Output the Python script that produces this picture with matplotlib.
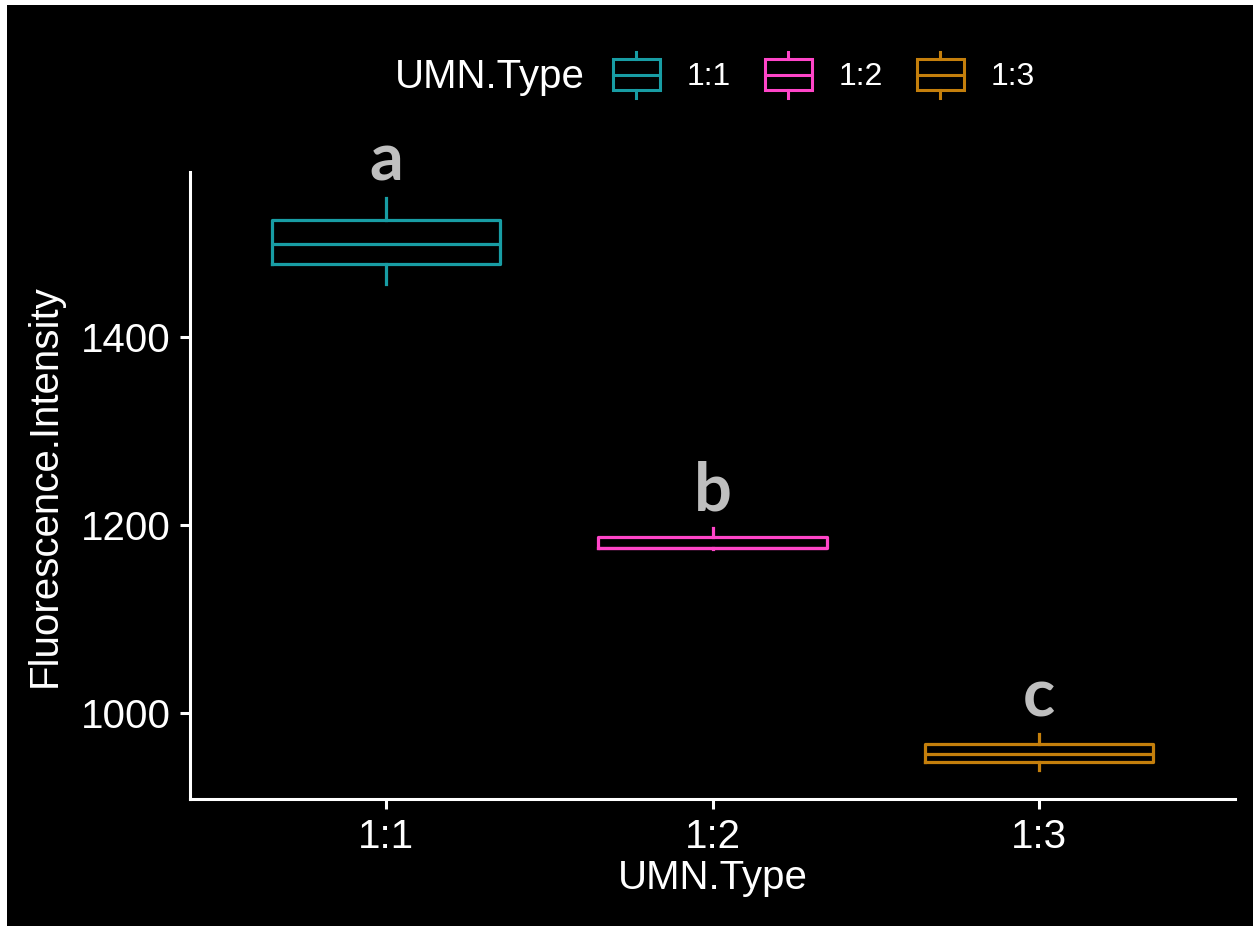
import matplotlib
matplotlib.use("Agg")
import matplotlib.pyplot as plt
from matplotlib.patches import Rectangle, Patch
from matplotlib.lines import Line2D
from matplotlib.legend_handler import HandlerBase

# box statistics
groups = ["1:1", "1:2", "1:3"]
whis_low = [1456, 1174, 939]
q1 = [1478, 1175, 948]
median = [1499, 1176, 956]
q3 = [1524, 1187, 967]
whis_high = [1548, 1197, 978]
letters = ["a", "b", "c"]
colors = ["#189DA4", "#FF45C8", "#C47F0C"]

plt.rcParams["font.family"] = ["Liberation Sans", "DejaVu Sans"]

fig = plt.figure(figsize=(12.53, 9.26), dpi=100, facecolor="white")
# black background with the thin white strip on top / left
fig.patches.append(Rectangle((7 / 1253, 0), 1, 1 - 5 / 926, transform=fig.transFigure,
                             facecolor="black", edgecolor="none", zorder=-10))

ax = fig.add_axes([190 / 1253, 1 - 799 / 926, (1235 - 190) / 1253, (799 - 172) / 926])
ax.set_facecolor("black")

stats = []
for i in range(len(groups)):
    stats.append(dict(med=median[i], q1=q1[i], q3=q3[i], whislo=whis_low[i],
                      whishi=whis_high[i], fliers=[], label=groups[i]))

bp = ax.bxp(stats, positions=[1, 2, 3], widths=0.7, showfliers=False, showcaps=False)
for i, c in enumerate(colors):
    bp["boxes"][i].set(color=c, linewidth=2.3)
    bp["medians"][i].set(color=c, linewidth=2.3)
    bp["whiskers"][2 * i].set(color=c, linewidth=2.3)
    bp["whiskers"][2 * i + 1].set(color=c, linewidth=2.3)

# significance letters
for i, lt in enumerate(letters):
    ax.text(i + 1, whis_high[i] + 18, lt, ha="center", va="baseline", color="#BFBFBF",
            fontsize=48, fontweight="bold", family=["Lato", "DejaVu Sans"])

ax.set_xlim(0.4, 3.6)
ax.set_ylim(908.5, 1575.5)
ax.set_xticks([1, 2, 3])
ax.set_xticklabels(groups)
ax.set_yticks([1000, 1200, 1400])

for s in ["top", "right"]:
    ax.spines[s].set_visible(False)
for s in ["left", "bottom"]:
    ax.spines[s].set_color("white")
    ax.spines[s].set_linewidth(2.2)
ax.tick_params(colors="white", labelsize=29, width=2.2, length=7, pad=7)

ax.set_xlabel("UMN.Type", color="white", fontsize=29, labelpad=2)
ax.set_ylabel("Fluorescence.Intensity", color="white", fontsize=29, labelpad=12)


class BoxHandler(HandlerBase):
    def create_artists(self, legend, orig_handle, xdescent, ydescent, width, height,
                       fontsize, trans):
        c = orig_handle.get_edgecolor()
        x0, y0 = -xdescent, -ydescent
        b0 = y0 + 0.17 * height
        b1 = y0 + 0.85 * height
        box = Rectangle((x0, b0), width, b1 - b0, facecolor="none", edgecolor=c,
                        linewidth=2.2, transform=trans)
        med = Line2D([x0, x0 + width], [(b0 + b1) / 2] * 2, color=c, lw=2.2, transform=trans)
        w1 = Line2D([x0 + width / 2] * 2, [b1, y0 + height], color=c, lw=2.2, transform=trans)
        w2 = Line2D([x0 + width / 2] * 2, [y0, b0], color=c, lw=2.2, transform=trans)
        return [box, med, w1, w2]


handles = [Patch(edgecolor=c, facecolor="none") for c in colors]
leg = fig.legend(handles, groups, handler_map={Patch: BoxHandler()}, ncol=3,
                 loc="center left", bbox_to_anchor=(613 / 1253, 1 - 75 / 926),
                 frameon=False, fontsize=23, labelcolor="white", handlelength=1.47,
                 handleheight=1.88, handletextpad=0.85, columnspacing=1.05,
                 borderpad=0, borderaxespad=0)
fig.text(585 / 1253, 1 - 77 / 926, "UMN.Type", color="white", fontsize=29,
         ha="right", va="center")

fig.savefig("out.png", dpi=100, facecolor=fig.get_facecolor())
